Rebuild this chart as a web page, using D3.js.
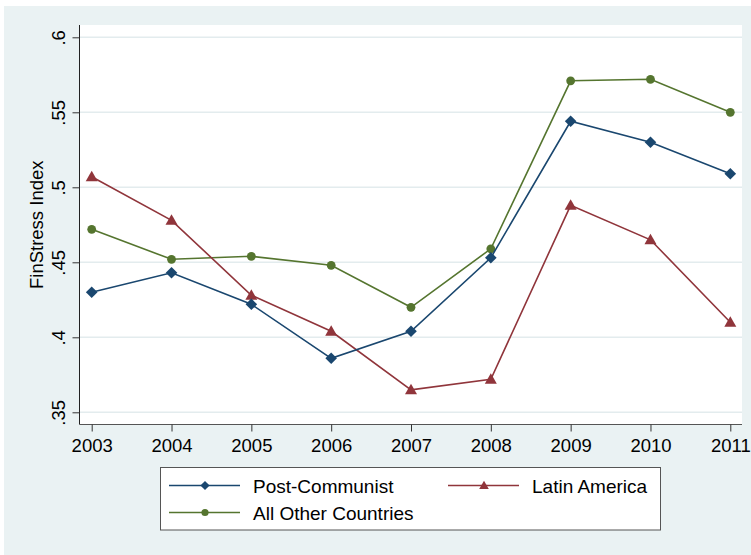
<!DOCTYPE html>
<html><head><meta charset="utf-8">
<script src="https://cdn.jsdelivr.net/npm/d3@7"></script>
<style>body{margin:0;background:#fff}svg{display:block;font-family:"Liberation Sans",Arial,sans-serif}</style>
</head><body>
<svg id="c" width="751" height="555"></svg>
<script>
const years = [2003,2004,2005,2006,2007,2008,2009,2010,2011];
const postCommunist = [0.430,0.443,0.422,0.386,0.404,0.453,0.544,0.530,0.509];
const latinAmerica  = [0.507,0.478,0.428,0.404,0.365,0.372,0.488,0.465,0.410];
const allOther      = [0.472,0.452,0.454,0.448,0.420,0.459,0.571,0.572,0.550];
const yTicks = [0.35,0.4,0.45,0.5,0.55,0.6];
const yTickLabels = [".35",".4",".45",".5",".55",".6"];
const seriesNames = ["Post-Communist","Latin America","All Other Countries"];
const seriesColors = ["#1a476f","#90353b","#55752f"];
const seriesShapes = ["diamond","triangle","circle"];

const svg = d3.select("#c");
svg.append("rect").attr("x",4).attr("y",6).attr("width",747).attr("height",549).attr("fill","#eaf2f3");
const P = {l:79.5, r:742, t:25, b:424.5};
svg.append("rect").attr("x",P.l).attr("y",P.t).attr("width",P.r-P.l).attr("height",P.b-P.t).attr("fill","#fff");

const x = d3.scaleLinear().domain([2003,2011]).range([91.7,730.3]);
const y = d3.scaleLinear().domain([0.35,0.6]).range([412.3,37.3]);

// gridlines
svg.append("g").selectAll("line").data(yTicks).join("line")
  .attr("x1",P.l).attr("x2",P.r).attr("y1",d=>y(d)).attr("y2",d=>y(d))
  .attr("stroke","#e3ecee").attr("stroke-width",1.5);

// y axis
const yAxis = d3.axisLeft(y).tickValues(yTicks).tickSize(7).tickFormat((d,i)=>yTickLabels[i]);
const gy = svg.append("g").attr("transform",`translate(${P.l},0)`).call(yAxis);
gy.select(".domain").attr("d",`M0,${P.t}V${P.b}`).attr("stroke","#222");
gy.selectAll(".tick line").attr("stroke","#333");
gy.selectAll(".tick text").attr("x",null).attr("dy",null)
  .attr("transform","translate(-15,0) rotate(-90)")
  .attr("text-anchor","middle").attr("fill","#000")
  .style("font-size","18.5px").style("font-family","Liberation Sans, Arial, sans-serif");

// x axis
const xAxis = d3.axisBottom(x).tickValues(years).tickSize(7).tickFormat(d3.format("d"));
const gx = svg.append("g").attr("transform",`translate(0,${P.b})`).call(xAxis);
gx.select(".domain").attr("d",`M${P.l},0H${P.r}`).attr("stroke","#555");
gx.selectAll(".tick line").attr("stroke","#333");
gx.selectAll(".tick text").attr("dy",null).attr("y",27.5).attr("fill","#000")
  .style("font-size","18.5px").style("font-family","Liberation Sans, Arial, sans-serif");

// y title
svg.append("text").attr("transform",`translate(43.3,${(P.t+P.b)/2}) rotate(-90)`)
  .attr("text-anchor","middle").style("font-size","18.5px").text("FinStress Index");

function marker(g, shape, color){
  if(shape==="diamond") g.append("path").attr("d","M0,-5.8L5.8,0L0,5.8L-5.8,0Z").attr("fill",color);
  else if(shape==="triangle") g.append("path").attr("d","M0,-6L6,4.5L-6,4.5Z").attr("fill",color);
  else g.append("circle").attr("r",4.4).attr("fill",color);
}

const allSeries = [postCommunist, latinAmerica, allOther];
const line = d3.line().x((d,i)=>x(years[i])).y(d=>y(d));
// draw order: green, red, blue? keep blue on top of green
[2,1,0].forEach(k=>{
  const g = svg.append("g");
  g.append("path").datum(allSeries[k]).attr("d",line).attr("fill","none")
    .attr("stroke",seriesColors[k]).attr("stroke-width",1.6);
  allSeries[k].forEach((v,i)=>{
    const m = g.append("g").attr("transform",`translate(${x(years[i])},${y(v)})`);
    marker(m, seriesShapes[k], seriesColors[k]);
  });
});

// legend
const L = svg.append("g");
L.append("rect").attr("x",160.5).attr("y",467.5).attr("width",500).attr("height",62.5)
  .attr("fill","#fff").attr("stroke","#555").attr("stroke-width",1);
const legPos = [{x:169,y:485.5},{x:448,y:485.5},{x:169,y:512.5}];
seriesNames.forEach((n,k)=>{
  const p = legPos[k];
  L.append("line").attr("x1",p.x).attr("x2",p.x+71).attr("y1",p.y).attr("y2",p.y)
    .attr("stroke",seriesColors[k]).attr("stroke-width",1.6);
  const m = L.append("g").attr("transform",`translate(${p.x+36},${p.y})`);
  if(seriesShapes[k]==="diamond") m.append("path").attr("d","M0,-4.6L4.6,0L0,4.6L-4.6,0Z").attr("fill",seriesColors[k]);
  else if(seriesShapes[k]==="triangle") m.append("path").attr("d","M0,-4.8L4.8,3.6L-4.8,3.6Z").attr("fill",seriesColors[k]);
  else m.append("circle").attr("r",3.6).attr("fill",seriesColors[k]);
  L.append("text").attr("x",p.x+84).attr("y",p.y+7.5).style("font-size","19px").text(n);
});
</script>
</body></html>
